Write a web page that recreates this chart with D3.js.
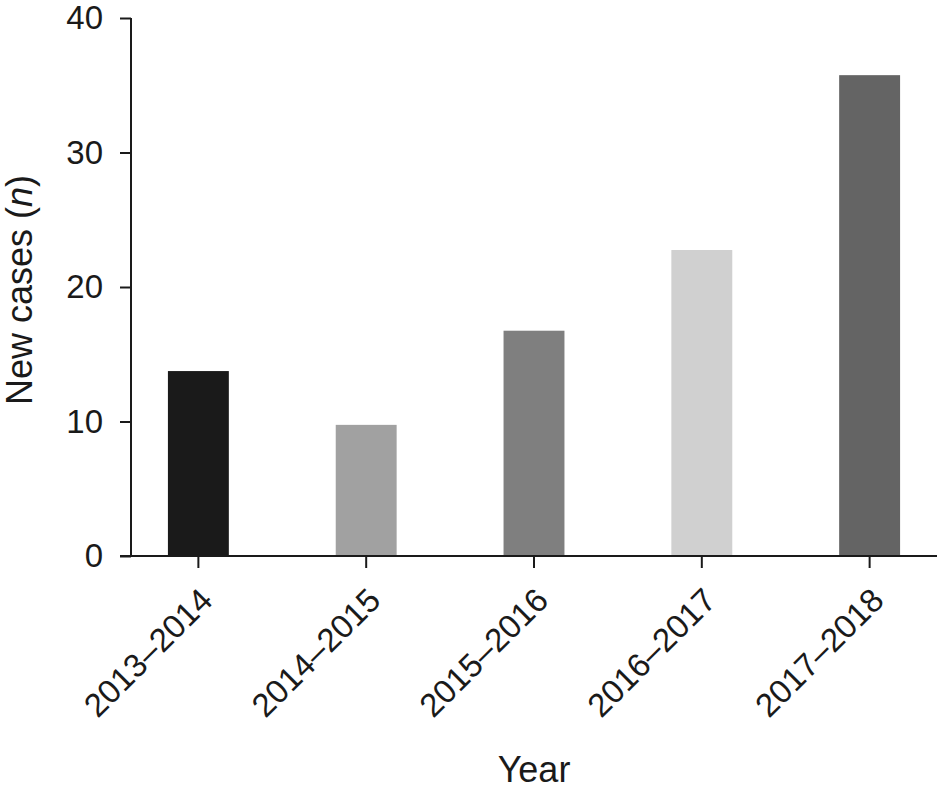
<!DOCTYPE html>
<html><head><meta charset="utf-8">
<script src="https://cdn.jsdelivr.net/npm/d3@7/dist/d3.min.js"></script>
<style>body{margin:0;background:#fff}svg{display:block}text{font-family:"Liberation Sans",Arial,sans-serif;fill:#1a1a1a}</style>
</head><body><svg id="c" width="937" height="793"></svg>
<script>
const categories = ["2013\u20132014","2014\u20132015","2015\u20132016","2016\u20132017","2017\u20132018"];
const values = [13.75, 9.75, 16.75, 22.75, 35.75];
const colors = ["#1a1a1a","#a1a1a1","#7f7f7f","#d0d0d0","#646464"];
const yTicks = [0,10,20,30,40];

const svg = d3.select("#c");
const x = d3.scaleBand().domain(categories).range([131, 937]).paddingInner(0.637).paddingOuter(0.22);
const y = d3.scaleLinear().domain([0, 40]).range([556, 18]);

svg.selectAll("rect.bar").data(values).join("rect")
  .attr("class","bar")
  .attr("x",(d,i)=>x(categories[i]))
  .attr("width",x.bandwidth())
  .attr("y",d=>y(d))
  .attr("height",d=>y(0)-y(d))
  .attr("fill",(d,i)=>colors[i]);

// y axis
const ya = svg.append("g").attr("transform","translate(131,0)")
  .call(d3.axisLeft(y).tickValues(yTicks).tickSize(11).tickPadding(17).tickSizeOuter(0));
ya.select(".domain").attr("stroke","#1a1a1a").attr("stroke-width",2).attr("d","M0,18V556");
ya.selectAll(".tick line").attr("stroke","#1a1a1a").attr("stroke-width",2);
ya.selectAll(".tick text").attr("font-size",33).attr("font-family","Liberation Sans, Arial, sans-serif").attr("fill","#1a1a1a");

// x axis
const xa = svg.append("g").attr("transform","translate(0,556)")
  .call(d3.axisBottom(x).tickSize(12).tickSizeOuter(0));
xa.select(".domain").attr("stroke","#1a1a1a").attr("stroke-width",2).attr("d","M120,0H937");
xa.selectAll(".tick line").attr("stroke","#1a1a1a").attr("stroke-width",2);
xa.selectAll(".tick text")
  .attr("font-size",33).attr("font-family","Liberation Sans, Arial, sans-serif").attr("fill","#1a1a1a")
  .attr("text-anchor","end").attr("dy","0.35em")
  .attr("transform","translate(8,38) rotate(-45)").attr("y",0).attr("x",0);

// axis titles
svg.append("text").attr("x",534).attr("y",782).attr("text-anchor","middle")
  .attr("font-size",36).text("Year");
const yt = svg.append("text").attr("transform","translate(32,290) rotate(-90)")
  .attr("text-anchor","middle").attr("font-size",36);
yt.append("tspan").text("New cases (");
yt.append("tspan").attr("font-style","italic").text("n");
yt.append("tspan").text(")");
</script></body></html>
